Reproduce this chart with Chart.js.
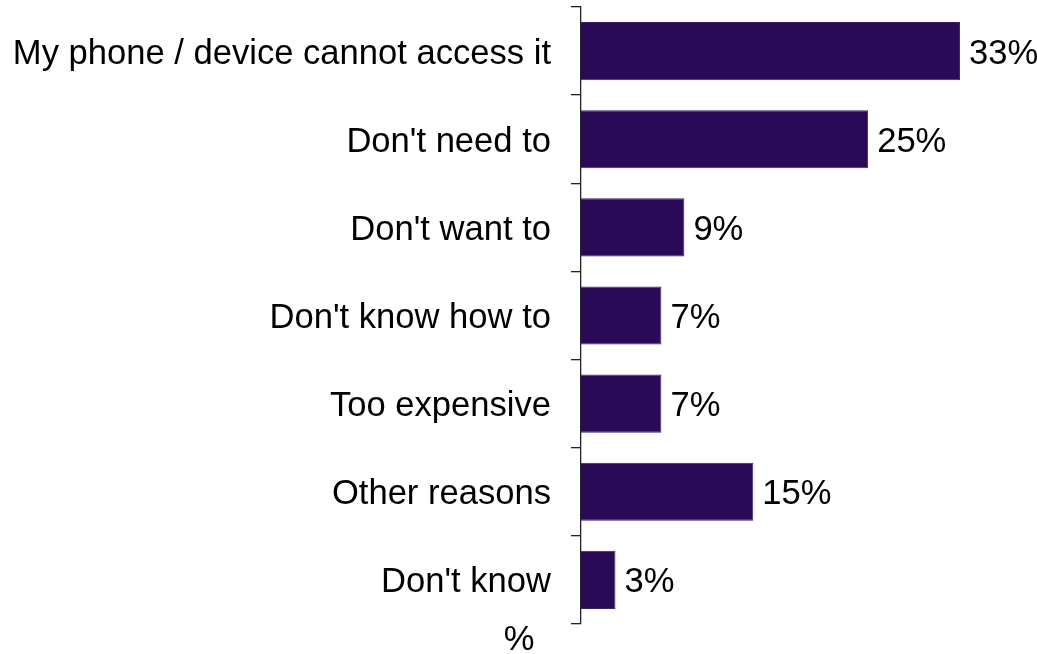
<!DOCTYPE html>
<html>
<head>
<meta charset="utf-8">
<script src="https://cdn.jsdelivr.net/npm/chart.js@4"></script>
<style>
  html, body { margin: 0; padding: 0; background: #fff; }
  #wrap { width: 1037px; height: 654px; position: relative; }
</style>
</head>
<body>
<div id="wrap"><canvas id="reasonsChart"></canvas></div>
<script>
const categories = [
  'My phone / device cannot access it',
  "Don't need to",
  "Don't want to",
  "Don't know how to",
  'Too expensive',
  'Other reasons',
  "Don't know"
];
const shares = [33, 25, 9, 7, 7, 15, 3];
const unitLabel = '%';

const FONT = '"Liberation Sans", Arial, sans-serif';
const FONT_SIZE = 34.6;

// value labels next to each bar
const valueLabels = {
  id: 'valueLabels',
  afterDatasetsDraw(chart) {
    const { ctx } = chart;
    const meta = chart.getDatasetMeta(0);
    ctx.save();
    ctx.font = FONT_SIZE + 'px ' + FONT;
    ctx.fillStyle = '#000';
    ctx.textBaseline = 'middle';
    ctx.textAlign = 'left';
    meta.data.forEach((bar, i) => {
      ctx.fillText(shares[i] + '%', bar.x + 9, bar.y + 3);
    });
    ctx.restore();
  }
};

// the lone "%" under the labels
const unitNote = {
  id: 'unitNote',
  afterDraw(chart) {
    const { ctx, chartArea } = chart;
    ctx.save();
    ctx.font = FONT_SIZE + 'px ' + FONT;
    ctx.fillStyle = '#000';
    ctx.textAlign = 'center';
    ctx.textBaseline = 'middle';
    ctx.fillText(unitLabel, chartArea.left - 62, chartArea.bottom + 16);
    ctx.restore();
  }
};

new Chart(document.getElementById('reasonsChart'), {
  type: 'bar',
  data: {
    labels: categories,
    datasets: [{
      data: shares,
      backgroundColor: '#2a0a57',
      borderColor: '#3a2070',
      borderWidth: 1,
      barPercentage: 0.66,
      categoryPercentage: 1
    }]
  },
  options: {
    indexAxis: 'y',
    responsive: true,
    maintainAspectRatio: false,
    animation: false,
    layout: { autoPadding: false, padding: { top: 7, bottom: 30, left: 0, right: 0 } },
    plugins: {
      legend: { display: false },
      tooltip: { enabled: false }
    },
    scales: {
      x: {
        display: false,
        min: 0,
        max: 39.7
      },
      y: {
        afterFit(scale) {
          scale.width = 581;
          scale.paddingTop = 0;
          scale.paddingBottom = 0;
        },
        grid: {
          drawOnChartArea: false,
          drawTicks: true,
          tickLength: 10,
          color: '#222',
          lineWidth: 1.3,
          offset: true
        },
        border: { display: true, color: '#222', width: 1.3 },
        ticks: {
          color: '#000',
          padding: 20,
          labelOffset: 3,
          font: { family: FONT, size: FONT_SIZE }
        }
      }
    }
  },
  plugins: [valueLabels, unitNote]
});
</script>
</body>
</html>
